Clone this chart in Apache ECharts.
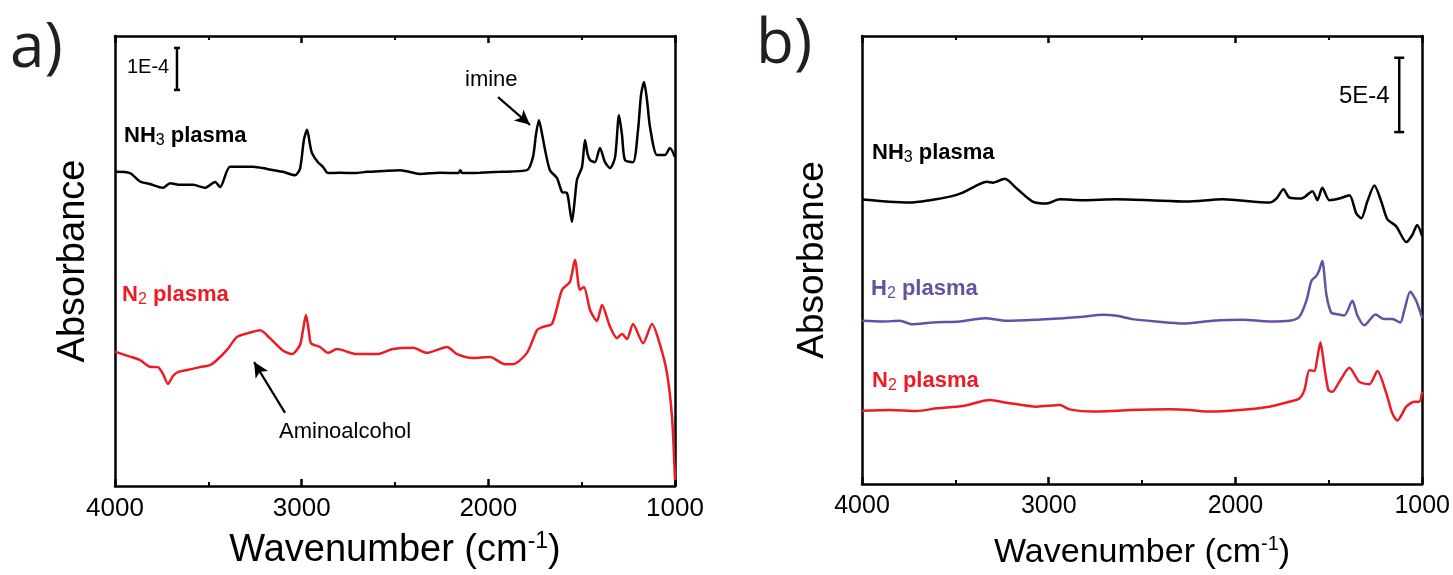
<!DOCTYPE html>
<html>
<head>
<meta charset="utf-8">
<script src="https://cdn.jsdelivr.net/npm/echarts@6/dist/echarts.min.js"></script>
<style>
html,body{margin:0;padding:0;background:#fff;}
#chart{width:1453px;height:575px;}
</style>
</head>
<body>
<div id="chart"></div>
<script>
// ---- Data (wavenumber cm-1, absorbance in units of 1E-4, offset traces) ----
const xTicks = [4000, 3000, 2000, 1000];

const aNH3 = [
[4000,7.48],[3920,7.45],[3866,7.25],[3813,7.19],[3743,7.10],[3705,7.21],[3652,7.17],[3582,7.17],[3518,7.10],[3464,7.24],[3437,7.12],
[3384,7.60],[3314,7.60],[3261,7.60],[3186,7.55],[3100,7.48],[3036,7.40],[3009,7.55],[2988,8.24],[2971,8.48],[2955,8.12],[2945,7.93],
[2913,7.71],[2886,7.60],[2859,7.45],[2795,7.46],[2714,7.45],[2650,7.48],[2564,7.50],[2473,7.52],[2366,7.43],[2259,7.46],[2160,7.45],
[2150,7.52],[2140,7.45],[2045,7.46],[1938,7.48],[1793,7.52],[1761,7.83],[1745,8.36],[1729,8.71],[1713,8.40],[1696,8.00],[1670,7.52],
[1632,7.33],[1605,7.00],[1579,6.98],[1563,6.57],[1552,6.29],[1536,6.86],[1525,7.29],[1498,7.60],[1482,8.24],[1468,7.90],[1455,7.76],
[1429,7.71],[1402,8.05],[1375,7.71],[1348,7.57],[1321,7.83],[1300,8.83],[1284,8.36],[1268,7.76],[1225,7.71],[1198,8.48],[1182,9.31],
[1166,9.62],[1150,9.19],[1134,8.55],[1096,7.88],[1054,7.88],[1027,8.05],[1000,7.83]
];

const aN2 = [
[4000,3.20],[3920,3.08],[3866,3.00],[3813,2.84],[3770,2.83],[3743,2.67],[3716,2.43],[3689,2.62],[3663,2.71],[3614,2.76],[3545,2.83],
[3491,2.88],[3454,3.00],[3400,3.24],[3346,3.55],[3288,3.64],[3223,3.71],[3170,3.52],[3105,3.24],[3052,3.14],[3009,3.36],[2993,3.71],
[2977,4.07],[2961,3.67],[2950,3.40],[2902,3.31],[2859,3.17],[2811,3.26],[2704,3.14],[2596,3.14],[2511,3.26],[2404,3.29],[2329,3.17],
[2221,3.31],[2168,3.14],[2082,3.05],[1991,3.07],[1911,2.90],[1868,2.90],[1793,3.17],[1739,3.71],[1707,3.79],[1659,3.86],[1605,4.67],
[1563,4.86],[1536,5.38],[1509,4.67],[1488,4.74],[1455,4.19],[1418,3.93],[1391,4.31],[1348,3.79],[1311,3.52],[1284,3.62],[1257,3.50],
[1225,3.86],[1171,3.40],[1123,3.86],[1080,3.36],[1043,2.69],[1016,1.64],[1000,0.14]
];

const bNH3 = [
[4000,19.13],[3888,19.02],[3743,18.93],[3636,19.09],[3529,19.33],[3460,19.60],[3385,20.09],[3332,20.33],[3299,20.27],[3235,20.53],
[3171,19.87],[3086,19.00],[3011,18.87],[2941,19.15],[2818,19.09],[2636,19.15],[2460,19.09],[2262,19.00],[2069,19.15],[1818,18.93],
[1781,19.20],[1743,19.82],[1711,19.27],[1647,19.20],[1588,19.69],[1561,19.09],[1535,19.93],[1497,19.09],[1444,19.20],[1390,19.42],
[1353,18.20],[1326,17.87],[1294,19.00],[1256,20.07],[1219,19.00],[1187,17.82],[1139,17.33],[1085,16.27],[1053,16.75],[1027,17.42],[1000,16.67]
];

const bH2 = [
[4000,10.98],[3888,10.93],[3797,10.98],[3733,10.75],[3620,10.87],[3476,10.93],[3342,11.15],[3225,10.98],[3064,11.05],[2925,11.15],
[2818,11.25],[2711,11.38],[2636,11.31],[2551,11.09],[2422,10.93],[2283,10.80],[2123,10.98],[1962,11.05],[1818,10.93],[1711,10.98],
[1658,11.25],[1620,12.33],[1593,13.67],[1567,14.00],[1551,14.40],[1535,15.00],[1513,12.73],[1487,11.53],[1454,11.42],[1417,11.33],
[1374,12.33],[1347,11.33],[1310,10.67],[1250,11.40],[1203,11.09],[1160,11.09],[1117,10.87],[1096,11.67],[1064,12.93],[1032,12.33],[1000,11.15]
];

const bN2 = [
[4000,4.93],[3850,4.98],[3706,4.91],[3599,5.09],[3460,5.25],[3315,5.65],[3225,5.47],[3064,5.20],[2941,5.31],[2888,5.02],[2765,4.87],
[2636,4.93],[2567,4.98],[2353,5.02],[2246,4.98],[2139,4.87],[1978,4.98],[1818,5.20],[1711,5.53],[1658,5.75],[1631,6.31],[1604,7.65],
[1577,7.60],[1561,8.53],[1545,9.53],[1524,7.87],[1502,6.31],[1481,6.20],[1444,6.87],[1390,7.82],[1337,6.87],[1283,6.71],[1240,7.60],
[1192,6.09],[1160,4.75],[1133,4.27],[1085,5.20],[1043,5.53],[1016,5.53],[1000,6.20]
];

// scale bars: [wavenumber, lower, upper]
const scaleA = [[3668, 9.43, 10.43]];
const scaleB = [[1123, 23.67, 28.67]];
// arrows: [from, to]
const arrowImine = [[1948, 9.26], [1777, 8.60]];
const arrowAmino = [[3089, 1.74], [3255, 2.95]];

const RED = '#ED1C24', PURPLE = '#6650A4', BLACK = '#000000';
const FONT = "'Liberation Sans', Arial, sans-serif";

const chart = echarts.init(document.getElementById('chart'), null, {renderer: 'canvas'});

function xAxisPair(gi, titleSize, labelSize, gap) {
  const common = {
    gridIndex: gi, type: 'value', min: 1000, max: 4000, interval: 1000, inverse: true,
    splitLine: {show: false},
    axisLine: {show: true, onZero: false, lineStyle: {color: '#000', width: 2.5}},
    axisTick: {show: true, inside: true, length: 7, lineStyle: {color: '#000', width: 2.5}},
    minorTick: {show: true, splitNumber: 2, length: 4, lineStyle: {color: '#000', width: 2}}
  };
  return [
    Object.assign({}, common, {
      position: 'bottom',
      axisLabel: {show: true, fontSize: labelSize, fontFamily: FONT, color: '#000', margin: 10,
                  formatter: function (v) { return String(v); }},
      name: '{t|Wavenumber (cm}{sup|-1}{t|)}',
      nameLocation: 'middle', nameGap: gap,
      nameTextStyle: {
        rich: {
          t: {fontSize: titleSize, fontFamily: FONT, color: '#000', lineHeight: titleSize + 4},
          sup: {fontSize: Math.round(titleSize*0.6), fontFamily: FONT, color: '#000', lineHeight: 14, verticalAlign: 'top'}
        }
      }
    }),
    Object.assign({}, common, {position: 'top', axisLabel: {show: false}})
  ];
}

function yAxes(gi, max, size, gap) {
  return [
    {gridIndex: gi, type: 'value', min: 0, max: max, position: 'left',
     axisLine: {show: true, onZero: false, lineStyle: {color: '#000', width: 2.5}},
     axisTick: {show: false}, axisLabel: {show: false}, splitLine: {show: false},
     name: 'Absorbance', nameLocation: 'middle', nameGap: gap,
     nameTextStyle: {fontSize: size, fontFamily: FONT, color: '#000'}},
    {gridIndex: gi, type: 'value', min: 0, max: max, position: 'right',
     axisLine: {show: true, onZero: false, lineStyle: {color: '#000', width: 2.5}},
     axisTick: {show: false}, axisLabel: {show: false}, splitLine: {show: false}}
  ];
}

function lineSeries(data, color, xi, yi) {
  return {type: 'line', data: data, xAxisIndex: xi, yAxisIndex: yi, showSymbol: false,
          smooth: 0.25, lineStyle: {color: color, width: 2.5}, itemStyle: {color: color},
          animation: false, z: 3};
}

function scaleSeries(data, xi, yi, cap) {
  return {
    type: 'custom', xAxisIndex: xi, yAxisIndex: yi, data: data, animation: false, z: 4,
    renderItem: function (params, api) {
      const p0 = api.coord([api.value(0), api.value(1)]);
      const p1 = api.coord([api.value(0), api.value(2)]);
      const st = {stroke: '#000', lineWidth: 2.5};
      return {type: 'group', children: [
        {type: 'line', shape: {x1: p0[0], y1: p0[1], x2: p1[0], y2: p1[1]}, style: st},
        {type: 'line', shape: {x1: p0[0]-cap, y1: p0[1], x2: p0[0]+cap, y2: p0[1]}, style: st},
        {type: 'line', shape: {x1: p1[0]-cap, y1: p1[1], x2: p1[0]+cap, y2: p1[1]}, style: st}
      ]};
    }
  };
}

function arrowSeries(pts, xi, yi) {
  return {
    type: 'line', data: [], xAxisIndex: xi, yAxisIndex: yi, animation: false,
    markLine: {
      silent: true, animation: false, symbol: ['none', 'arrow'], symbolSize: [11, 15],
      label: {show: false},
      lineStyle: {color: '#000', width: 2.2, type: 'solid'},
      data: [[{coord: pts[0]}, {coord: pts[1]}]]
    }
  };
}

function richLabel(main, sub, color, size) {
  return {
    text: '{b|' + main + '}{s|' + sub + '}{b| plasma}',
    rich: {
      b: {fontSize: size, fontWeight: 'bold', fontFamily: FONT, fill: color, color: color, lineHeight: 26},
      s: {fontSize: Math.round(size*0.72), fontWeight: 'normal', fontFamily: FONT, fill: color, color: color, lineHeight: 13, verticalAlign: 'bottom'}
    }
  };
}

const option = {
  backgroundColor: '#fff',
  animation: false,
  grid: [
    {left: 115, right: 1453 - 675, top: 36, bottom: 575 - 486},
    {left: 862, right: 1453 - 1423, top: 36, bottom: 575 - 488}
  ],
  xAxis: [].concat(xAxisPair(0, 38, 26, 44), xAxisPair(1, 34, 25, 50)),
  yAxis: [].concat(yAxes(0, 450/42, 38, 22), yAxes(1, 452/15, 37, 31)),
  series: [
    lineSeries(aNH3, BLACK, 0, 0),
    lineSeries(aN2, RED, 0, 0),
    lineSeries(bNH3, BLACK, 2, 2),
    lineSeries(bH2, PURPLE, 2, 2),
    lineSeries(bN2, RED, 2, 2),
    scaleSeries(scaleA, 0, 0, 3),
    scaleSeries(scaleB, 2, 2, 5),
    arrowSeries(arrowImine, 0, 0),
    arrowSeries(arrowAmino, 0, 0)
  ],
  graphic: [
    {type: 'text', left: 10, top: 18, style: {text: 'a)', font: "62px 'Open Sans', sans-serif", fill: '#231F20'}},
    {type: 'text', left: 756, top: 14, style: {text: 'b)', font: "62px 'Open Sans', sans-serif", fill: '#231F20'}},
    {type: 'text', left: 127, top: 57, style: {text: '1E-4', font: "20px 'Liberation Sans', Arial", fill: '#000'}},
    {type: 'text', left: 1339, top: 84, style: {text: '5E-4', font: "24px 'Liberation Sans', Arial", fill: '#000'}},
    {type: 'text', left: 465, top: 69, style: {text: 'imine', font: "22px 'Liberation Sans', Arial", fill: '#000'}},
    {type: 'text', left: 279, top: 421, style: {text: 'Aminoalcohol', font: "22px 'Liberation Sans', Arial", fill: '#000'}},
    {type: 'text', left: 124, top: 125, style: richLabel('NH', '3', BLACK, 22)},
    {type: 'text', left: 122, top: 284, style: richLabel('N', '2', RED, 22)},
    {type: 'text', left: 872, top: 142, style: richLabel('NH', '3', BLACK, 22)},
    {type: 'text', left: 871, top: 278, style: richLabel('H', '2', PURPLE, 22)},
    {type: 'text', left: 872, top: 370, style: richLabel('N', '2', RED, 22)}
  ]
};
chart.setOption(option);
</script>
</body>
</html>
